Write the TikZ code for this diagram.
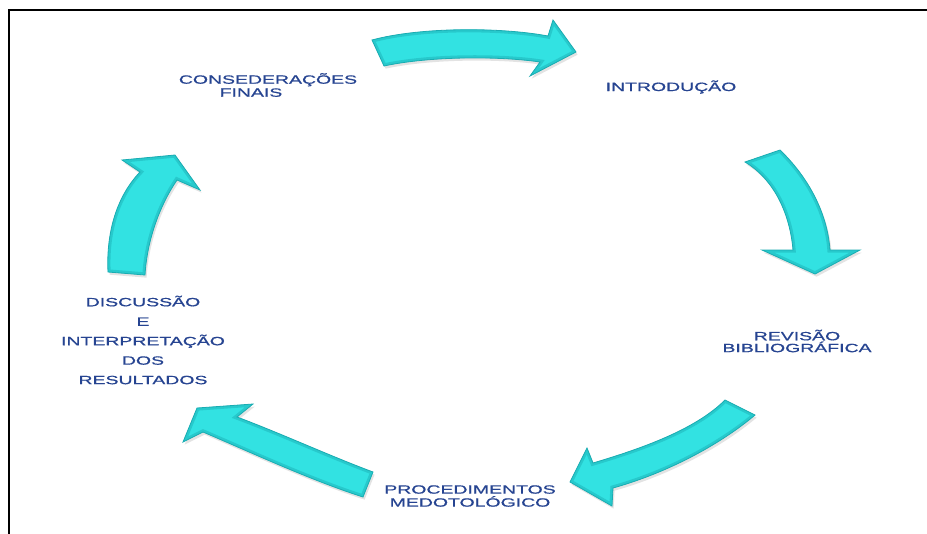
\documentclass[tikz,border=0pt]{standalone}
\usepackage{fontspec}
\setmainfont{Liberation Sans}
\newfontfamily\lblfont[FakeStretch=1.62,FakeBold=0.8]{Liberation Sans}
\usetikzlibrary{shadows}

\definecolor{arrowfill}{RGB}{50,226,226}
\definecolor{arrowedge}{RGB}{26,172,178}
\definecolor{labelblue}{RGB}{38,68,145}

\tikzset{
  cyclearrow/.style={fill=arrowfill, draw=arrowedge, line width=0.6pt,
    drop shadow={opacity=0.22, shadow xshift=1.2pt, shadow yshift=-2pt}},
  bevel/.style={draw=arrowedge, line width=4pt, opacity=0.45},
  steplabel/.style={font=\lblfont\fontsize{9}{9.75}\selectfont,
    text=labelblue, align=center, inner sep=0pt},
  frameline/.style={draw=black, line width=2.2pt},
}

% a block arrow: filled body plus a darker bevel along its inner rim
\newcommand{\blockarrow}[1]{%
  \path[cyclearrow] #1;
  \begin{scope}
    \clip #1;
    \path[bevel] #1;
  \end{scope}}

\begin{document}
\begin{tikzpicture}[x=0.75pt,y=-0.75pt]
\useasboundingbox (0,0) rectangle (927,533);
\fill[white] (0,0) rectangle (927,533);

% page frame (top and left edges)
\draw[frameline] (9,545) -- (9,10) -- (940,10);

% top arrow, pointing right
\blockarrow{(372,40) .. controls (420,27) and (500,27) .. (548,36)
  -- (553,20) -- (576,52) -- (530,76) -- (540,62)
  .. controls (500,56) and (430,56) .. (384,66) -- cycle}

% right arrow, pointing down
\blockarrow{(745,162) -- (780,150)
  .. controls (806,175) and (827,210) .. (830,250)
  -- (860,250) -- (815,274) -- (762,250) -- (793,250)
  .. controls (790,215) and (775,180) .. (745,162) -- cycle}

% lower right arrow, pointing down-left
\blockarrow{(725,400) -- (755,415)
  .. controls (722,443) and (670,472) .. (613,488)
  -- (612,506) -- (570,482) -- (587,448) -- (593,463)
  .. controls (640,449) and (695,430) .. (725,400) -- cycle}

% lower left arrow, pointing up-left
\blockarrow{(373,472) -- (363,497)
  .. controls (310,480) and (250,452) .. (203,432)
  -- (183,442) -- (197,408) -- (253,404) -- (237,417)
  .. controls (280,433) and (330,456) .. (373,472) -- cycle}

% left arrow, pointing up
\blockarrow{(145,275) -- (108,272)
  .. controls (106,230) and (118,195) .. (140,172)
  -- (122,160) -- (175,155) -- (200,190) -- (177,180)
  .. controls (160,205) and (147,240) .. (145,275) -- cycle}

% stage labels
\node[steplabel] (finais) at (268,85) {CONSEDERAÇÕES\\FINAIS\hspace*{25.5pt}};
\node[steplabel] (intro) at (671,87) {INTRODUÇÃO};
\node[steplabel, font=\lblfont\fontsize{9}{7.8}\selectfont] (revisao) at (797,341) {REVISÃO\\BIBLIOGRÁFICA};
\node[steplabel] (proced) at (470,496) {PROCEDIMENTOS\\MEDOTOLÓGICO};
\node[steplabel, font=\lblfont\fontsize{9}{14.6}\selectfont] (discussao) at (143,340)
  {DISCUSSÃO\\E\hspace*{12pt}\\INTERPRETAÇÃO\\DOS\\RESULTADOS};
\end{tikzpicture}
\end{document}
